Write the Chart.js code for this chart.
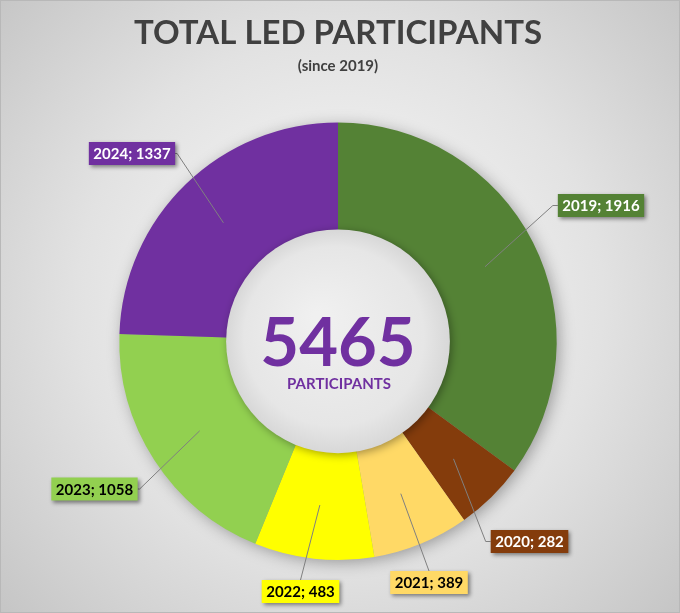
<!DOCTYPE html>
<html>
<head>
<meta charset="utf-8">
<script src="https://cdn.jsdelivr.net/npm/chart.js@4/dist/chart.umd.min.js"></script>
<style>
  html, body { margin: 0; padding: 0; background: #d0d0d0; }
  #wrap { width: 680px; height: 613px; }
</style>
</head>
<body>
<div id="wrap"><canvas id="donut" width="680" height="613"></canvas></div>
<script>
const years = ['2019', '2020', '2021', '2022', '2023', '2024'];
const participants = [1916, 282, 389, 483, 1058, 1337];
const sliceColors = ['#548235', '#843C0C', '#FFD966', '#FFFF00', '#92D050', '#7030A0'];
const labelTextColors = ['#ffffff', '#ffffff', '#000000', '#000000', '#000000', '#ffffff'];

// where each data label box sits, and which edge the leader line joins
const labelBoxes = [
  { x: 601, y: 205.5, side: 'left' },
  { x: 529.5, y: 541.5, side: 'left' },
  { x: 429, y: 582.5, side: 'top' },
  { x: 300.5, y: 591.5, side: 'top' },
  { x: 94.5, y: 489, side: 'right' },
  { x: 132, y: 153.5, side: 'right' }
];

const total = participants.reduce((a, b) => a + b, 0);

const backdrop = {
  id: 'backdrop',
  beforeDraw(chart) {
    const ctx = chart.ctx;
    const w = chart.width, h = chart.height;
    ctx.save();
    const g = ctx.createRadialGradient(340, 300, 10, 340, 300, 470);
    g.addColorStop(0, '#fbfbfb');
    g.addColorStop(0.55, '#e2e2e2');
    g.addColorStop(1, '#c4c4c4');
    ctx.fillStyle = g;
    ctx.fillRect(0, 0, w, h);
    ctx.strokeStyle = '#b8b8b8';
    ctx.lineWidth = 1;
    ctx.strokeRect(0.5, 0.5, w - 1, h - 1);
    ctx.restore();
  },
  beforeDatasetsDraw(chart) {
    // soft shadow under the ring
    const arc = chart.getDatasetMeta(0).data[0];
    if (!arc) return;
    const ctx = chart.ctx;
    ctx.save();
    ctx.shadowColor = 'rgba(0,0,0,0.35)';
    ctx.shadowBlur = 16;
    ctx.shadowOffsetX = 3;
    ctx.shadowOffsetY = 3;
    ctx.fillStyle = '#999';
    ctx.beginPath();
    ctx.arc(arc.x, arc.y, arc.outerRadius - 1, 0, Math.PI * 2);
    ctx.fill();
    ctx.restore();
  },
  afterDatasetsDraw(chart) {
    const meta = chart.getDatasetMeta(0);
    const arc0 = meta.data[0];
    const ctx = chart.ctx;
    const cx = arc0.x, cy = arc0.y, rIn = arc0.innerRadius;

    // raised disk in the hole
    ctx.save();
    ctx.shadowColor = 'rgba(0,0,0,0.35)';
    ctx.shadowBlur = 8;
    ctx.shadowOffsetX = 2;
    ctx.shadowOffsetY = 2;
    const dg = ctx.createRadialGradient(cx - 20, cy - 25, 5, cx, cy, rIn);
    dg.addColorStop(0, '#f0f0f0');
    dg.addColorStop(0.8, '#e6e6e6');
    dg.addColorStop(1, '#d8d8d8');
    ctx.fillStyle = dg;
    ctx.beginPath();
    ctx.arc(cx, cy, rIn + 1, 0, Math.PI * 2);
    ctx.fill();
    ctx.restore();

    // centre text
    ctx.save();
    ctx.fillStyle = '#7030A0';
    ctx.textAlign = 'center';
    ctx.textBaseline = 'alphabetic';
    ctx.font = 'bold 67px Lato';
    ctx.fillText(String(total), cx, cy + 25);
    ctx.font = 'bold 15px Lato';
    ctx.fillText('PARTICIPANTS', cx + 1, cy + 48);
    ctx.restore();

    // data labels with leader lines
    ctx.save();
    ctx.font = 'bold 15px Lato';
    meta.data.forEach((arc, i) => {
      const text = years[i] + '; ' + participants[i];
      const box = labelBoxes[i];
      const tw = ctx.measureText(text).width;
      const bw = tw + 9, bh = 23;
      const left = box.x - bw / 2, top = box.y - bh / 2;
      const p = arc.tooltipPosition();

      let ex, ey, sx, sy;
      if (box.side === 'left') { ex = left - 5; ey = box.y; sx = left; sy = box.y; }
      else if (box.side === 'right') { ex = left + bw + 2; ey = box.y; sx = left + bw; sy = box.y; }
      else { ex = box.x; ey = top; sx = box.x; sy = top; }

      ctx.strokeStyle = '#808080';
      ctx.lineWidth = 1;
      ctx.beginPath();
      ctx.moveTo(p.x, p.y);
      ctx.lineTo(ex, ey);
      ctx.lineTo(sx, sy);
      ctx.stroke();

      ctx.save();
      ctx.shadowColor = 'rgba(0,0,0,0.45)';
      ctx.shadowBlur = 4;
      ctx.shadowOffsetX = 2;
      ctx.shadowOffsetY = 2;
      ctx.fillStyle = sliceColors[i];
      ctx.fillRect(left, top, bw, bh);
      ctx.restore();

      ctx.fillStyle = labelTextColors[i];
      ctx.textAlign = 'center';
      ctx.textBaseline = 'middle';
      ctx.fillText(text, box.x, box.y + 1);
    });
    ctx.restore();
  }
};

new Chart(document.getElementById('donut'), {
  type: 'doughnut',
  data: {
    labels: years,
    datasets: [{
      data: participants,
      backgroundColor: sliceColors,
      borderWidth: 0,
      hoverOffset: 0
    }]
  },
  options: {
    responsive: false,
    animation: false,
    cutout: '50.7%',
    layout: { padding: { top: 0, bottom: 53, left: 0, right: 4 } },
    plugins: {
      legend: { display: false },
      tooltip: { enabled: false },
      title: {
        display: true,
        text: 'TOTAL LED PARTICIPANTS',
        color: '#404040',
        font: { family: 'Lato', size: 33, weight: 'bold', lineHeight: 1.2 },
        padding: { top: 14, bottom: 4 }
      },
      subtitle: {
        display: true,
        text: '(since 2019)',
        color: '#404040',
        font: { family: 'Lato', size: 15, weight: 'bold', lineHeight: 1.2 },
        padding: { top: 0, bottom: 47 }
      }
    }
  },
  plugins: [backdrop]
});
</script>
</body>
</html>
